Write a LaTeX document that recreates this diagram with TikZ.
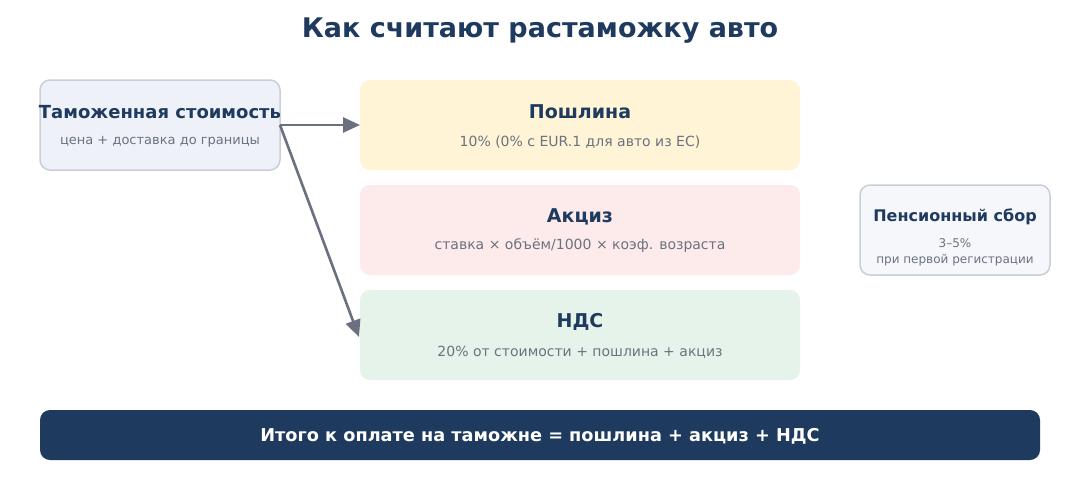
\documentclass[tikz,border=0pt]{standalone}
\usepackage{fontspec}
\setmainfont{DejaVu Sans}
\usetikzlibrary{arrows.meta}
\definecolor{navy}{HTML}{1F3A5F}
\definecolor{graytxt}{HTML}{6B7280}
\definecolor{bordc}{HTML}{C8CFD9}
\definecolor{tamfill}{HTML}{EEF2F8}
\definecolor{poshfill}{HTML}{FFF4D6}
\definecolor{akcfill}{HTML}{FDEAEA}
\definecolor{ndsfill}{HTML}{E6F3EA}
\definecolor{penfill}{HTML}{F5F7FA}
\definecolor{arrc}{HTML}{6B7080}
\begin{document}
\begin{tikzpicture}[x=1pt,y=-1pt,
  box/.style={rounded corners=10pt, inner sep=0pt},
  ttl/.style={font=\fontsize{19}{22}\selectfont\bfseries, text=navy, inner sep=0pt},
  sub/.style={font=\fontsize{14}{17}\selectfont, text=graytxt, inner sep=0pt},
  conn/.style={draw=arrc, line width=2.6pt, -{Triangle[length=17pt,width=15pt]}}]
\useasboundingbox (0,0) rectangle (1080,490);
\fill[white] (0,0) rectangle (1080,490);

\node[font=\fontsize{27}{31}\selectfont\bfseries, text=navy, inner sep=0pt] (title) at (540,31) {Как считают растаможку авто};

% boxes
\draw[box, fill=tamfill, draw=bordc, line width=1.5pt] (40,80) rectangle (280,170);
\coordinate (tamR) at (280,125);
\node[ttl, font=\fontsize{18}{21}\selectfont\bfseries] (tamT) at (160,112) {Таможенная стоимость};
\node[sub, font=\fontsize{13}{16}\selectfont] (tamS) at (160,142) {цена + доставка до границы};

\fill[box, fill=poshfill] (360,80) rectangle (800,170);
\coordinate (poshL) at (360,125);
\node[ttl] (poshT) at (580,112) {Пошлина};
\node[sub] (poshS) at (580,142) {10\% (0\% с EUR.1 для авто из ЕС)};

\fill[box, fill=akcfill] (360,185) rectangle (800,275);
\node[ttl] (akcT) at (580,217) {Акциз};
\node[sub] (akcS) at (580,246) {ставка × объём/1000 × коэф. возраста};

\fill[box, fill=ndsfill] (360,290) rectangle (800,380);
\coordinate (ndsL) at (359,337);
\node[ttl] (ndsT) at (580,322) {НДС};
\node[sub] (ndsS) at (580,352) {20\% от стоимости + пошлина + акциз};

\draw[box, fill=penfill, draw=bordc, line width=1.5pt] (860,185) rectangle (1050,275);
\node[ttl, font=\fontsize{16}{19}\selectfont\bfseries] (penT) at (955,217) {Пенсионный сбор};
\node[sub, font=\fontsize{12}{14}\selectfont] (penS1) at (955,243) {3–5\%};
\node[sub, font=\fontsize{12}{14}\selectfont] (penS2) at (955,260) {при первой регистрации};

\fill[rounded corners=10pt, fill=navy] (40,410) rectangle (1040,460);
\node[font=\fontsize{17.7}{21}\selectfont\bfseries, text=white, inner sep=0pt] (total) at (540,436) {Итого к оплате на таможне = пошлина + акциз + НДС};

% connectors
\draw[conn] (tamR) -- (poshL);
\draw[conn] (tamR) -- (ndsL);
\end{tikzpicture}
\end{document}
